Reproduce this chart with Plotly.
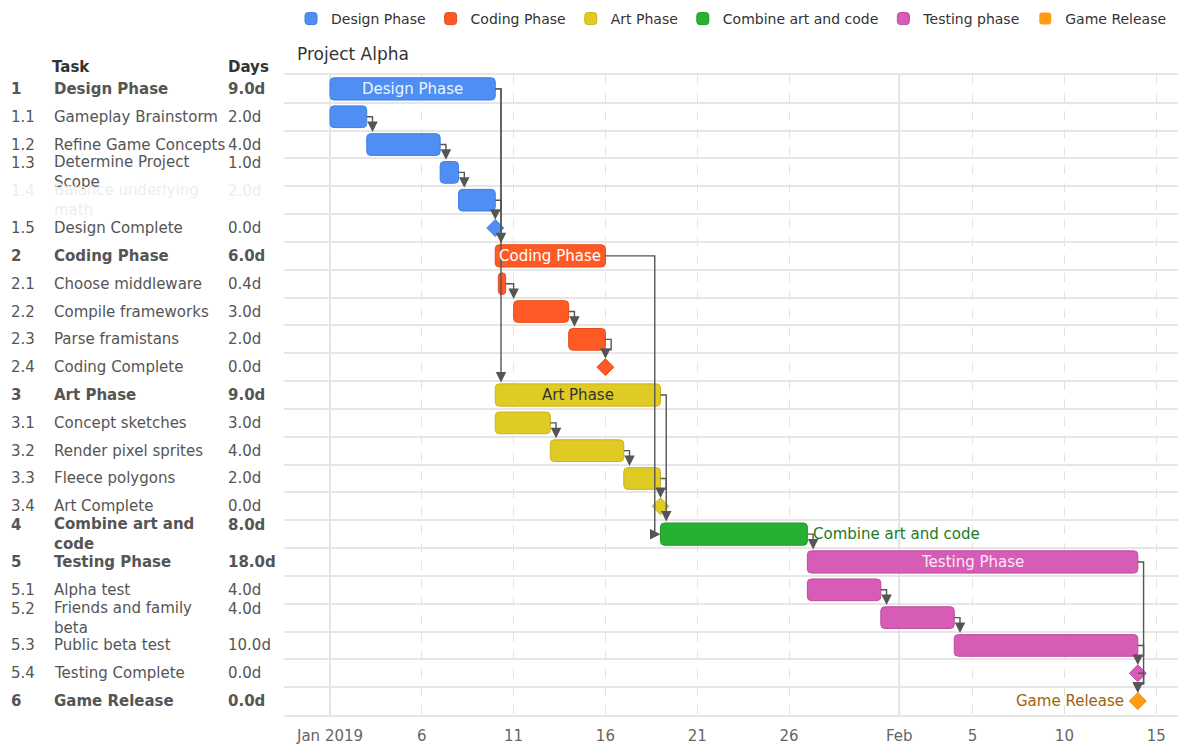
import textwrap
import pandas as pd
import plotly.graph_objects as go

# ---------------- data ----------------
task_ids = ["1", "1.1", "1.2", "1.3", "1.4", "1.5",
            "2", "2.1", "2.2", "2.3", "2.4",
            "3", "3.1", "3.2", "3.3", "3.4",
            "4", "5", "5.1", "5.2", "5.3", "5.4", "6"]
task_names = ["Design Phase", "Gameplay Brainstorm", "Refine Game Concepts",
              "Determine Project Scope", "Balance underlying math", "Design Complete",
              "Coding Phase", "Choose middleware", "Compile frameworks",
              "Parse framistans", "Coding Complete",
              "Art Phase", "Concept sketches", "Render pixel sprites",
              "Fleece polygons", "Art Complete",
              "Combine art and code", "Testing Phase", "Alpha test",
              "Friends and family beta", "Public beta test", "Testing Complete",
              "Game Release"]
start_dates = ["2019-01-01", "2019-01-01", "2019-01-03", "2019-01-07", "2019-01-08", "2019-01-10",
               "2019-01-10", "2019-01-10 04:00", "2019-01-11", "2019-01-14", "2019-01-16",
               "2019-01-10", "2019-01-10", "2019-01-13", "2019-01-17", "2019-01-19",
               "2019-01-19", "2019-01-27", "2019-01-27", "2019-01-31", "2019-02-04", "2019-02-14",
               "2019-02-14"]
duration_days = [9, 2, 4, 1, 2, 0,
                 6, 0.4, 3, 2, 0,
                 9, 3, 4, 2, 0,
                 8, 18, 4, 4, 10, 0,
                 0]
task_group = [0, 0, 0, 0, 0, 0,
              1, 1, 1, 1, 1,
              2, 2, 2, 2, 2,
              3, 4, 4, 4, 4, 4,
              5]
group_names = ["Design Phase", "Coding Phase", "Art Phase",
               "Combine art and code", "Testing phase", "Game Release"]
group_colors = ["#4f8ef2", "#ff5a26", "#dfcb24", "#27b133", "#d65cb6", "#ff9c14"]
group_borders = ["#3f7ee0", "#e84a18", "#c9b51a", "#1f9a28", "#bf4ba1", "#e88a0a"]
label_colors = ["#eef4ff", "#ffffff", "#333333", "#1b7a1f", "#fbe9f7", "#a3620c"]
dependencies = [("1.1", "1.2"), ("1.2", "1.3"), ("1.3", "1.4"), ("1.4", "1.5"),
                ("1", "2"), ("1", "3"),
                ("2.1", "2.2"), ("2.2", "2.3"), ("2.3", "2.4"), ("2", "4"),
                ("3.1", "3.2"), ("3.2", "3.3"), ("3.3", "3.4"), ("3", "4"),
                ("4", "5"), ("5.1", "5.2"), ("5.2", "5.3"), ("5.3", "5.4"),
                ("5", "6"), ("5.4", "6")]
hidden_rows = ["1.4"]
tick_dates = ["2019-01-01", "2019-01-06", "2019-01-11", "2019-01-16", "2019-01-21",
              "2019-01-26", "2019-02-01", "2019-02-05", "2019-02-10", "2019-02-15"]
tick_text = ["Jan 2019", "6", "11", "16", "21", "26", "Feb", "5", "10", "15"]
month_starts = ["2019-01-01", "2019-02-01"]
x_range = ["2018-12-29 11:50", "2019-02-16 04:30"]

# ---------------- layout geometry ----------------
W, H = 1185, 752
PL, PR, PT, PB = 284, 1178, 75, 715
FONT = "DejaVu Sans"


def px2paper(px):
    return (px - PL) / (PR - PL)


starts = [pd.Timestamp(s) for s in start_dates]
ends = [s + pd.Timedelta(days=d) for s, d in zip(starts, duration_days)]
n = len(task_ids)
is_parent = ["." not in t for t in task_ids]
is_milestone = [d == 0 for d in duration_days]
row_of = {t: i for i, t in enumerate(task_ids)}


def iso(ts):
    return ts.strftime("%Y-%m-%d %H:%M:%S")


fig = go.Figure()
annotations = []

# ---------------- bars ----------------
for g, gname in enumerate(group_names):
    idx = [i for i in range(n) if task_group[i] == g]
    fig.add_trace(go.Bar(
        orientation="h",
        name=gname,
        y=idx,
        base=[iso(starts[i]) for i in idx],
        x=[duration_days[i] * 86400000 for i in idx],
        width=[0.8 if is_parent[i] else 0.78 for i in idx],
        marker=dict(color=group_colors[g],
                    line=dict(color=group_borders[g],
                              width=[0 if is_milestone[i] else 1 for i in idx]),
                    cornerradius=4),
        hoverinfo="skip",
    ))

# phase labels
for i in range(n):
    if is_parent[i] and not is_milestone[i]:
        g = task_group[i]
        if g == 3:
            annotations.append(dict(x=iso(ends[i]), y=i, xref="x", yref="y",
                                    text=task_names[i], showarrow=False,
                                    xanchor="left", xshift=4,
                                    font=dict(size=15, color=label_colors[g], family=FONT)))
        else:
            mid = starts[i] + (ends[i] - starts[i]) / 2
            annotations.append(dict(x=iso(mid), y=i, xref="x", yref="y",
                                    text=task_names[i], showarrow=False,
                                    xanchor="center",
                                    font=dict(size=15, color=label_colors[g], family=FONT)))

# ---------------- milestones ----------------
for i in range(n):
    if is_milestone[i]:
        g = task_group[i]
        fig.add_trace(go.Scatter(
            x=[iso(ends[i])], y=[i], mode="markers", showlegend=False, hoverinfo="skip",
            marker=dict(symbol="diamond", size=13, color=group_colors[g],
                        line=dict(color=group_borders[g], width=1)),
            cliponaxis=False,
        ))

# ---------------- dependency connectors ----------------
D = pd.Timedelta(hours=7.5)
lx, ly = [], []
arrows = []
for a, b in dependencies:
    s, t = row_of[a], row_of[b]
    xe, xt = ends[s], starts[t]
    if (xt - xe) >= pd.Timedelta(days=1):
        lx += [iso(xe), iso(xt - D), iso(xt - D), None]
        ly += [s, s, t, None]
        arrows.append((iso(xt), t, -10, 0))
    elif is_milestone[t]:
        tip_y = t - 0.3
        lx += [iso(xe), iso(xe + D), iso(xe + D), iso(xt), None]
        ly += [s, s, tip_y - 0.32, tip_y - 0.32, None]
        arrows.append((iso(xt), tip_y, 0, -10))
    else:
        xa = max(xe + D, xt)
        tip_y = t - 0.45
        lx += [iso(xe), iso(xa), iso(xa), None]
        ly += [s, s, tip_y - 0.1, None]
        arrows.append((iso(xa), tip_y, 0, -10))

fig.add_trace(go.Scatter(x=lx, y=ly, mode="lines", showlegend=False, hoverinfo="skip",
                         line=dict(color="#555555", width=1.4)))

for ax_, ay_, dx, dy in arrows:
    annotations.append(dict(x=ax_, y=ay_, xref="x", yref="y", text="", showarrow=True,
                            ax=dx, ay=dy, arrowhead=2, arrowsize=1.5, arrowwidth=1.4,
                            arrowcolor="#555555", standoff=0))

# Game Release label
gr = row_of["6"]
annotations.append(dict(x=iso(ends[gr]), y=gr, xref="x", yref="y", text=task_names[gr],
                        showarrow=False, xanchor="right", xshift=-12,
                        font=dict(size=15, color=label_colors[5], family=FONT)))

# ---------------- left task table ----------------
for px, txt in [(50, "Task"), (226, "Days")]:
    annotations.append(dict(x=px2paper(px), y=(PB - 67) / (PB - PT), xref="paper", yref="paper",
                            text="<b>" + txt + "</b>", showarrow=False, xanchor="left",
                            yanchor="middle",
                            font=dict(size=15, color="#333333", family=FONT)))
for i in range(n):
    lines = textwrap.wrap(task_names[i], 17 if is_parent[i] else 20)
    shift = 9 * (len(lines) - 1)
    color = "#eceef1" if task_ids[i] in hidden_rows else "#555555"
    wrap = (lambda s: "<b>" + s + "</b>") if is_parent[i] else (lambda s: s)
    cols = [(9, task_ids[i], shift),
            (52, "<br>".join(lines), 0),
            (226, "%.1fd" % duration_days[i], shift)]
    for px, txt, ys in cols:
        annotations.append(dict(x=px2paper(px), y=i, xref="paper", yref="y",
                                text=wrap(txt), showarrow=False, xanchor="left",
                                yanchor="middle", yshift=ys, align="left",
                                font=dict(size=15, color=color, family=FONT)))

# ---------------- month gridlines ----------------
shapes = [dict(type="line", xref="x", yref="paper", x0=m, x1=m, y0=0, y1=1,
               line=dict(color="#e6e6e6", width=2), layer="below") for m in month_starts]

fig.update_layout(
    width=W, height=H,
    margin=dict(l=PL, r=W - PR, t=PT, b=H - PB, pad=0, autoexpand=False),
    plot_bgcolor="white", paper_bgcolor="white",
    font=dict(family=FONT, color="#333333"),
    barmode="overlay",
    title=dict(text="Project Alpha", x=297 / W, xanchor="left", xref="container",
               y=1 - 54 / H, yanchor="middle", yref="container",
               font=dict(size=17, color="#333333", family=FONT)),
    legend=dict(orientation="h", xref="container", yref="container",
                x=1172 / W, xanchor="right", y=1 - 19 / H,
                yanchor="middle", font=dict(size=14, color="#333333", family=FONT),
                bgcolor="rgba(0,0,0,0)", traceorder="normal"),
    xaxis=dict(type="date", range=x_range, tickvals=tick_dates, ticktext=tick_text,
               showgrid=True, gridcolor="#e3e3e3", griddash="dash", gridwidth=1,
               tickfont=dict(size=15, color="#666666", family=FONT),
               showline=True, linecolor="#e6e6e6", linewidth=2, mirror=True,
               ticks="outside", ticklen=6, tickcolor="rgba(0,0,0,0)", zeroline=False),
    yaxis=dict(range=[n - 0.5, -0.5], tickvals=[k - 0.5 for k in range(n + 1)],
               showticklabels=False, showgrid=True, gridcolor="#e6e6e6", gridwidth=2,
               zeroline=False, ticks=""),
    annotations=annotations,
    shapes=shapes,
    showlegend=True,
)

fig.write_html("out.html")
